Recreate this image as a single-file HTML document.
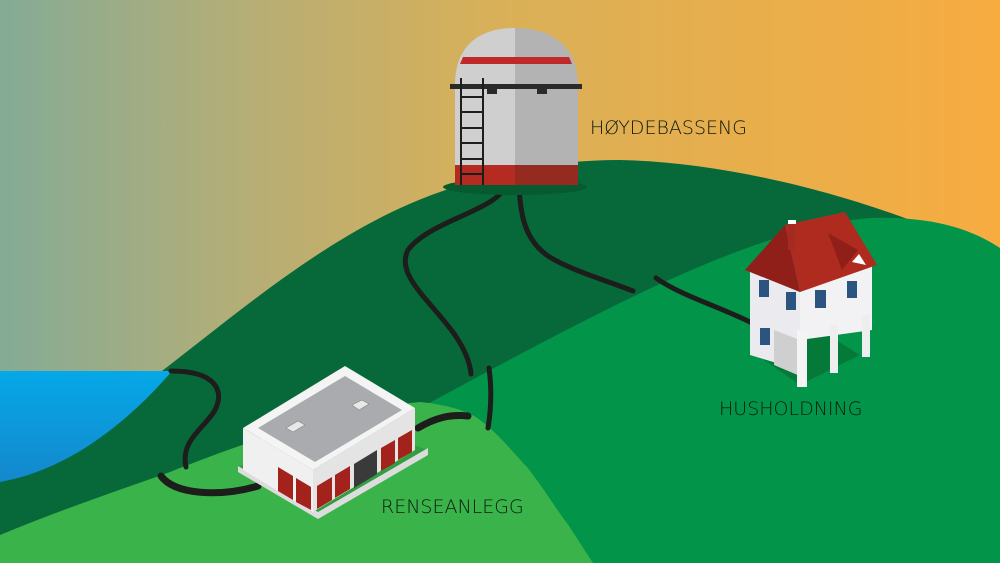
<!DOCTYPE html>
<html><head><meta charset="utf-8"><style>
html,body{margin:0;padding:0;width:1000px;height:563px;overflow:hidden}
svg{display:block}
text{font-family:"DejaVu Sans","Liberation Sans",sans-serif;font-weight:200;fill:#0d1a0d}
</style></head><body>
<svg width="1000" height="563" viewBox="0 0 1000 563" xmlns="http://www.w3.org/2000/svg">
<defs>
<linearGradient id="sky" x1="0" y1="0" x2="1" y2="0">
<stop offset="0" stop-color="#84ab96"/><stop offset="0.25" stop-color="#b6ae76"/><stop offset="0.5" stop-color="#d9b058"/><stop offset="1" stop-color="#f7ac40"/>
</linearGradient>
<linearGradient id="water" x1="0" y1="0" x2="0" y2="1">
<stop offset="0" stop-color="#05a8e8"/><stop offset="1" stop-color="#1488cc"/>
</linearGradient>
</defs>
<rect width="1000" height="563" fill="url(#sky)"/>
<path d="M0,563 L0,470 L150,380 C230,320 330,230 440,192 C500,170 560,160 620,160 C720,162 830,190 910,220 L1000,260 L1000,563 Z" fill="#07693a"/>
<path d="M0,371 L172,371 C130,420 70,470 0,482 Z" fill="url(#water)"/>
<path d="M380,430 L420,408 C500,365 600,310 680,275 C760,240 820,222 870,218 C930,216 970,228 1000,248 L1000,563 L380,563 Z" fill="#02954a"/>
<path d="M0,535 C60,510 120,490 170,472 C250,440 340,410 420,402 C450,405 470,412 480,420 C500,435 515,455 527,467 C545,490 560,515 567,523 L593,563 L0,563 Z" fill="#3bb34b"/>
<g fill="none" stroke="#1d1d1b" stroke-width="5" stroke-linecap="round">
<path d="M506,184 C500,210 430,220 408,250 C395,275 430,300 455,335 C465,350 470,362 471,374"/>
<path d="M519,184 C520,215 525,240 548,256 C570,270 605,280 633,291"/>
<path d="M656,278 C680,295 715,305 750,322"/>
<path d="M489,368 C492,390 491,410 488,428"/>
<path d="M468,416 C450,414 435,418 418,428" stroke-width="7"/>
<path d="M171,371 C215,371 225,390 215,410 C205,428 180,440 186,467"/>
<path d="M161,476 C175,495 220,497 258,486" stroke-width="7"/>
</g>
<ellipse cx="515" cy="187" rx="72" ry="8" fill="#055a30"/>
<path d="M455,85 C455,45 480,28 515,28 L515,185 L455,185 Z" fill="#cfcfcf"/>
<path d="M515,28 C550,28 578,45 578,85 L578,185 L515,185 Z" fill="#b3b3b3"/>
<path d="M463,57 L569,57 L572,64 L460,64 Z" fill="#c0292a"/>
<rect x="455" y="165" width="60" height="20" fill="#b52a21"/>
<rect x="515" y="165" width="63" height="20" fill="#952a20"/>
<rect x="450" y="84" width="132" height="5" fill="#2a2a2a"/>
<rect x="487" y="89" width="10" height="5" fill="#2a2a2a"/>
<rect x="537" y="89" width="10" height="5" fill="#2a2a2a"/>
<g stroke="#1d1d1b" stroke-width="2">
<line x1="461" y1="78" x2="461" y2="185"/><line x1="483" y1="78" x2="483" y2="185"/>
<line x1="461" y1="97" x2="483" y2="97"/><line x1="461" y1="112" x2="483" y2="112"/>
<line x1="461" y1="128" x2="483" y2="128"/><line x1="461" y1="143" x2="483" y2="143"/>
<line x1="461" y1="159" x2="483" y2="159"/><line x1="461" y1="174" x2="483" y2="174"/>
</g>
<path d="M238,466 L318,515 L428,450 L400,440 Z" fill="#2a8a3a" opacity="0.5"/>
<path d="M238,466 L318,512 L428,448 L428,455 L318,519 L238,472 Z" fill="#dcdcdc"/>
<path d="M243,428 L313,470 L313,512 L243,470 Z" fill="#f0f0f0"/>
<path d="M313,470 L415,408 L415,450 L313,512 Z" fill="#e4e4e4"/>
<path d="M243,428 L345,366 L415,408 L313,470 Z" fill="#f4f4f4"/>
<path d="M258,428 L345,376 L402,410 L315,462 Z" fill="#a9abae"/>
<g fill="#a3221b">
<path d="M278,467 L293,476 L293,500 L278,491 Z"/><path d="M296,478 L311,487 L311,510 L296,502 Z"/>
<path d="M317,486 L332,477 L332,500 L317,509 Z"/><path d="M335,475 L350,466 L350,489 L335,498 Z"/>
<path d="M381,448 L395,440 L395,463 L381,471 Z"/><path d="M398,438 L412,430 L412,452 L398,460 Z"/>
</g>
<path d="M354,464 L377,450 L377,474 L354,488 Z" fill="#3a3a3a"/>
<path d="M286,428 L298,421 L305,425 L293,432 Z" fill="#e8e8e8" stroke="#888" stroke-width="0.6"/>
<path d="M352,405 L362,400 L369,404 L359,410 Z" fill="#e8e8e8" stroke="#888" stroke-width="0.6"/>
<path d="M760,357 L800,385 L860,355 L820,330 Z" fill="#057a38"/>
<path d="M750,270 L800,292 L800,370 L750,355 Z" fill="#ebebef"/>
<path d="M800,292 L872,262 L872,330 L800,340 Z" fill="#f2f2f4"/>
<path d="M774,330 L800,340 L800,376 L774,365 Z" fill="#cfcfcf"/>
<rect x="797" y="330" width="10" height="57" fill="#f4f4f4"/>
<rect x="830" y="325" width="8" height="48" fill="#eee"/>
<rect x="862" y="315" width="8" height="42" fill="#eee"/>
<g fill="#2b5580">
<rect x="759" y="280" width="10" height="17"/><rect x="786" y="292" width="10" height="18"/>
<rect x="815" y="290" width="11" height="18"/><rect x="847" y="281" width="10" height="17"/>
<rect x="760" y="328" width="10" height="17"/>
</g>
<path d="M745,270 L785,225 L800,292 Z" fill="#8f1f18"/>
<path d="M785,225 L845,212 L877,265 L800,292 Z" fill="#b02b1f"/>
<path d="M828,233 L858,250 L842,270 Z" fill="#8f1f18"/>
<path d="M852,262 L859,254 L866,265 Z" fill="#fff"/>
<rect x="788" y="222" width="7" height="28" fill="#a52a20"/>
<rect x="788" y="220" width="8" height="4" fill="#fff"/>
<text x="590" y="134" font-size="19">HØYDEBASSENG</text>
<text x="719" y="415" font-size="19">HUSHOLDNING</text>
<text x="381" y="513" font-size="19">RENSEANLEGG</text>
</svg>
</body></html>
